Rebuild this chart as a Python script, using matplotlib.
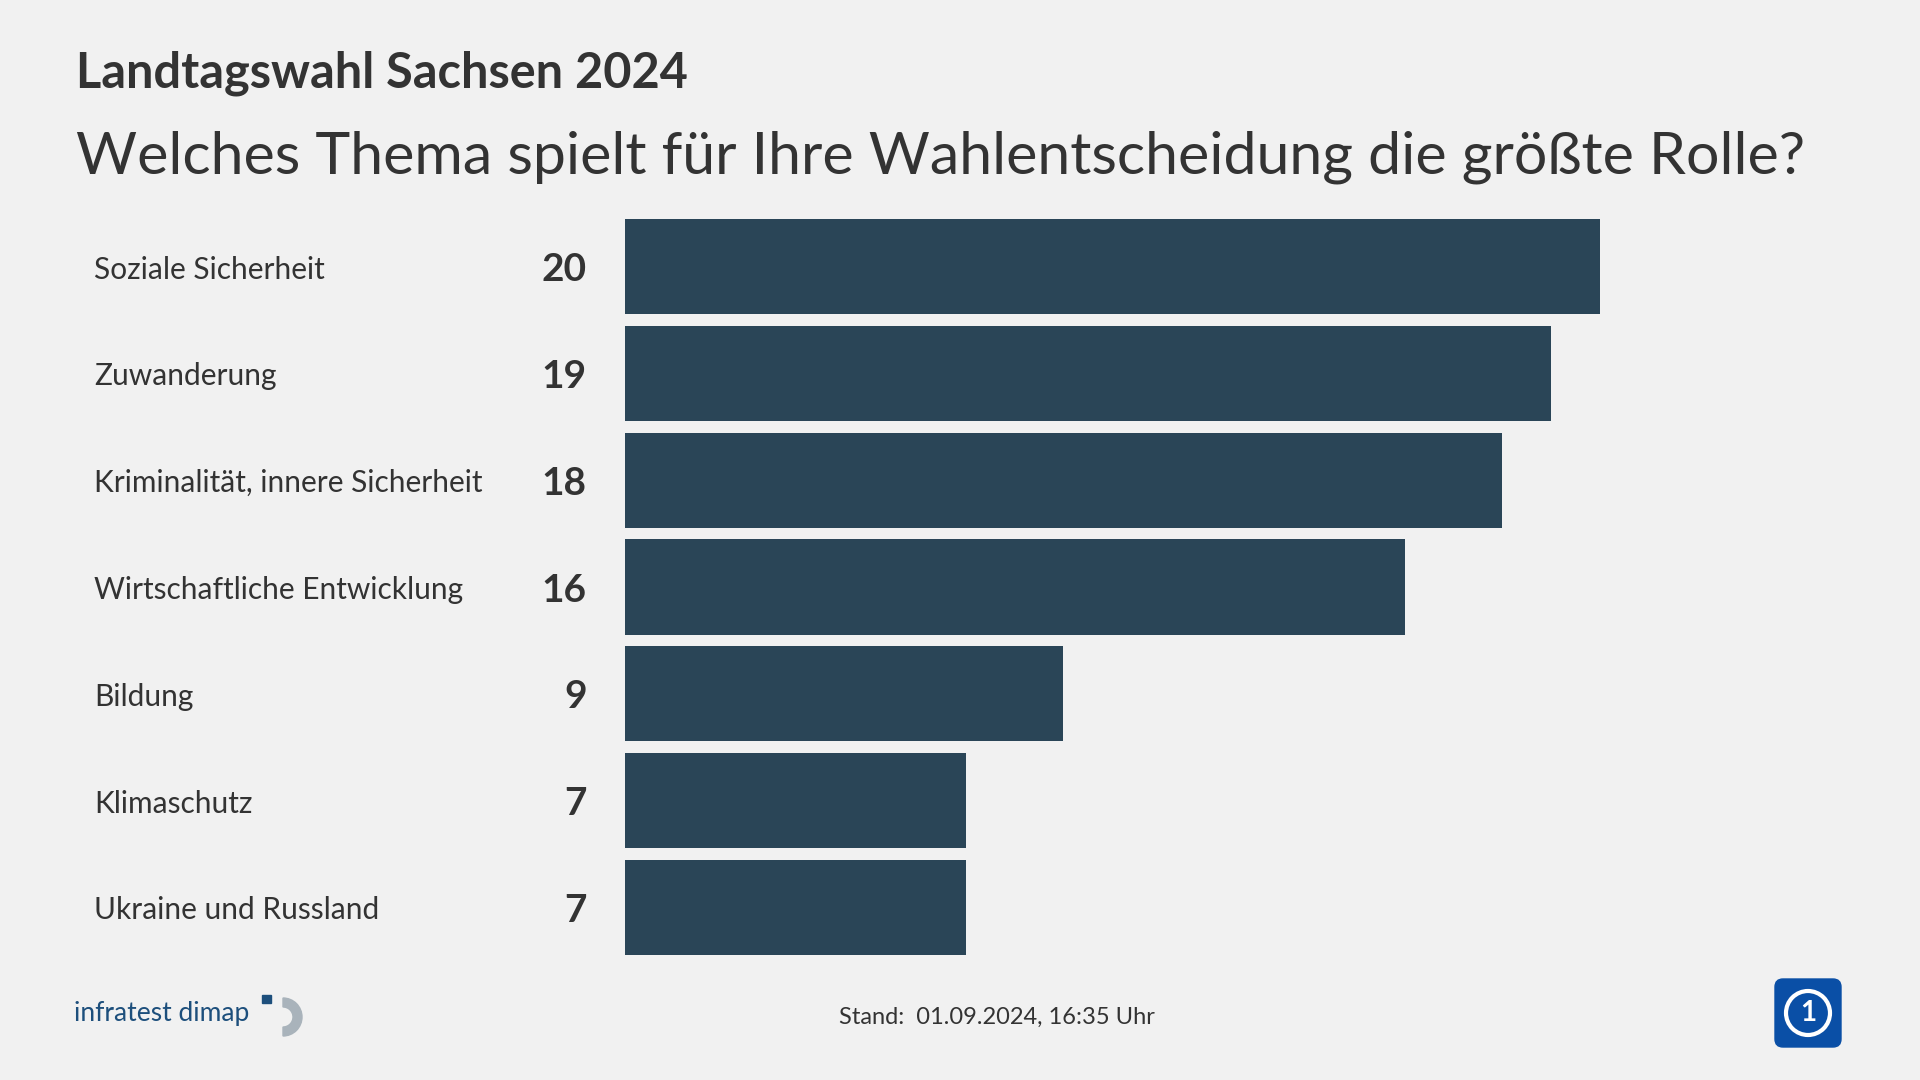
import matplotlib.pyplot as plt
from matplotlib.patches import FancyBboxPatch, Circle, Wedge
from matplotlib.transforms import blended_transform_factory

themen = ["Soziale Sicherheit", "Zuwanderung", "Kriminalität, innere Sicherheit",
          "Wirtschaftliche Entwicklung", "Bildung", "Klimaschutz", "Ukraine und Russland"]
werte = [20, 19, 18, 16, 9, 7, 7]

titel = "Landtagswahl Sachsen 2024"
frage = "Welches Thema spielt für Ihre Wahlentscheidung die größte Rolle?"
stand = "Stand:  01.09.2024, 16:35 Uhr"

bg = "#f1f1f1"
bar_col = "#2a4557"
txt = "#333333"

plt.rcParams['font.family'] = ['Lato', 'DejaVu Sans']

fig = plt.figure(figsize=(19.2, 10.8), dpi=100, facecolor=bg)
ax = fig.add_axes([624.5 / 1920, 1 - 955 / 1080, 975.5 / 1920, (955 - 219) / 1080])
ax.set_facecolor(bg)

y = list(range(len(themen)))
ax.barh(y, werte, height=0.89, color=bar_col)
ax.set_xlim(0, 20)
ax.set_ylim(len(themen) - 0.555, -0.445)
ax.axis("off")

# Kategorien links (x in Figure-Koordinaten, y in Daten)
trans = blended_transform_factory(fig.transFigure, ax.transData)
for i, t in enumerate(themen):
    ax.annotate(t, xy=(94 / 1920, i), xycoords=trans, xytext=(0, -3),
                textcoords="offset pixels", fontsize=21.5, color=txt,
                va="center", ha="left")
# Werte vor den Balken
for i, v in enumerate(werte):
    ax.annotate(str(v), xy=(0, i), xytext=(-38, -3), textcoords="offset pixels",
                fontsize=28, fontweight="bold", color=txt, va="center", ha="right")

fig.text(76 / 1920, 1 - 88 / 1080, titel, fontsize=35, fontweight="bold", color=txt,
         va="baseline", ha="left")
fig.text(76 / 1920, 1 - 173 / 1080, frage, fontsize=42.5, color=txt,
         va="baseline", ha="left")

fig.text(997 / 1920, 1 - 1017 / 1080, stand, fontsize=17, color=txt, va="center", ha="center")

# infratest dimap Logo (vereinfacht)
fig.text(74 / 1920, 1 - 1014 / 1080, "infratest dimap", fontsize=19, color="#1d4f7c",
         va="center", ha="left")
fig.patches.append(Wedge((283, 1080 - 1017), 19, -90, 90, width=9, color="#a9b3bb",
                         transform=None))
fig.patches.append(FancyBboxPatch((262, 1080 - 1003), 9, 8, boxstyle="square,pad=0",
                                  color="#1d4f7c", transform=None))

# ARD Logo (vereinfacht)
fig.patches.append(FancyBboxPatch((1775, 1080 - 1047), 66, 68,
                                  boxstyle="round,pad=0,rounding_size=8",
                                  color="#0a4fa6", transform=None))
fig.patches.append(Circle((1808, 1080 - 1013), 22, fill=False, ec="white", lw=3,
                          transform=None))
fig.text(1808 / 1920, 1 - 1013 / 1080, "1", fontsize=20, fontweight="bold",
         color="white", va="center", ha="center")

fig.savefig("out.png", dpi=100, facecolor=bg)
